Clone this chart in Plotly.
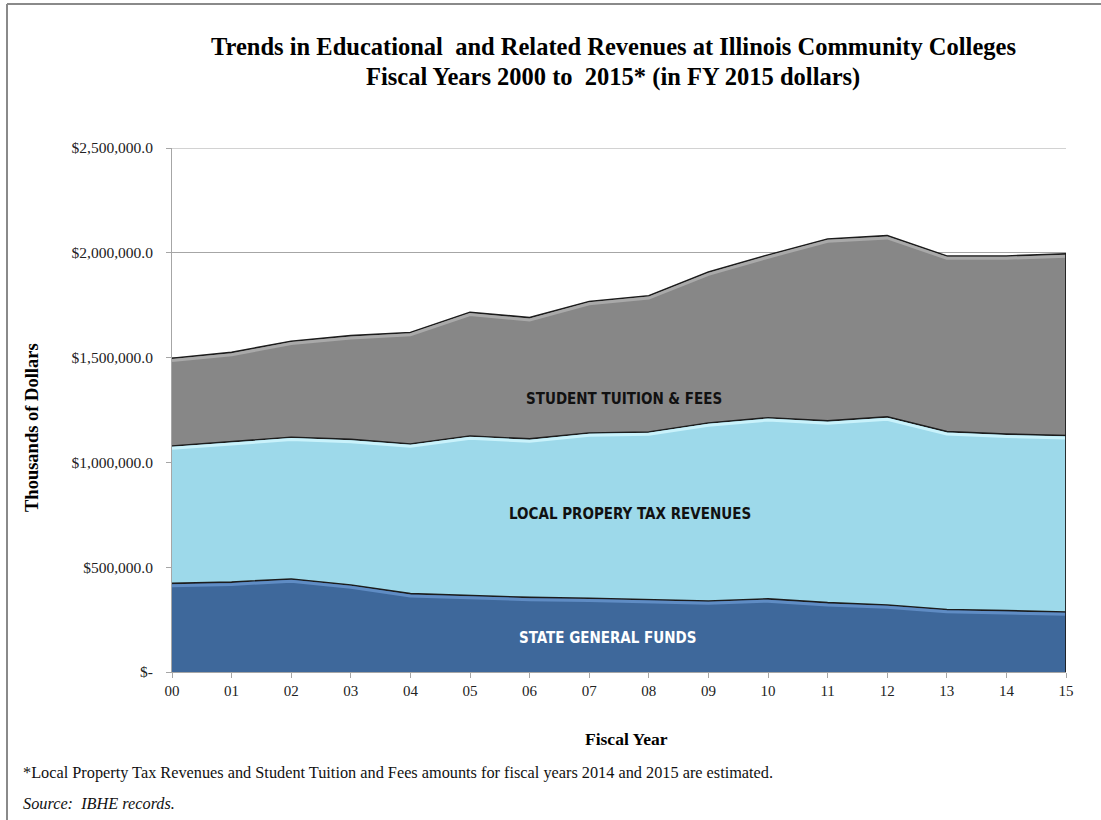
import plotly.graph_objects as go

years = ["00", "01", "02", "03", "04", "05", "06", "07", "08", "09", "10", "11", "12", "13", "14", "15"]
state_general = [423000, 429000, 444000, 415000, 374000, 366000, 356000, 352000,
                 345000, 339000, 349000, 331000, 320000, 298000, 293000, 286000]
local_property = [655000, 670000, 676000, 695000, 714000, 760000, 756000, 788000,
                  800000, 849000, 864000, 867000, 897000, 849000, 842000, 842000]
tuition_fees = [419000, 426000, 458000, 495000, 532000, 590000, 579000, 628000,
                650000, 720000, 777000, 868000, 865000, 838000, 850000, 867000]
y_tickvals = [0, 500000, 1000000, 1500000, 2000000, 2500000]
y_ticktext = ["$-", "$500,000.0", "$1,000,000.0", "$1,500,000.0", "$2,000,000.0", "$2,500,000.0"]

x = list(range(len(years)))
cum1 = state_general
cum2 = [a + b for a, b in zip(state_general, local_property)]
cum3 = [a + b for a, b in zip(cum2, tuition_fees)]

LINE = "#1c1c1c"
fig = go.Figure()
fig.add_trace(go.Scatter(x=x, y=state_general, stackgroup="s", mode="lines",
                         line=dict(color=LINE, width=1.6), fillcolor="#3e689b",
                         name="State General Funds"))
fig.add_trace(go.Scatter(x=x, y=local_property, stackgroup="s", mode="lines",
                         line=dict(color=LINE, width=1.6), fillcolor="#9dd9ea",
                         name="Local Property Tax Revenues"))
fig.add_trace(go.Scatter(x=x, y=tuition_fees, stackgroup="s", mode="lines",
                         line=dict(color=LINE, width=1.6), fillcolor="#878787",
                         name="Student Tuition & Fees"))

# bevel highlights just below each boundary
off = 11000
for cum, col in [(cum1, "#5f8cc4"), (cum2, "#c9f2fb"), (cum3, "#a9a9a9")]:
    fig.add_trace(go.Scatter(x=x, y=[v - off for v in cum], mode="lines",
                             line=dict(color=col, width=3), hoverinfo="skip"))
# right edge of the stacked areas
fig.add_trace(go.Scatter(x=[x[-1], x[-1]], y=[0, cum3[-1]], mode="lines",
                         line=dict(color=LINE, width=1.8), hoverinfo="skip"))

serif = "Liberation Serif"
fig.update_layout(
    width=1101, height=820,
    margin=dict(l=172, r=35, t=148, b=148),
    paper_bgcolor="white", plot_bgcolor="white",
    showlegend=False,
    font=dict(family=serif, color="#222222"),
    xaxis=dict(range=[0, 15], tickvals=x, ticktext=years, showgrid=False,
               zeroline=False, showline=True, linecolor="#a6a6a6", linewidth=1,
               ticks="outside", ticklen=5, tickcolor="#a6a6a6",
               tickfont=dict(family=serif, size=15, color="#222222")),
    yaxis=dict(range=[0, 2500000], tickvals=y_tickvals, ticktext=y_ticktext,
               showgrid=True, gridcolor="#a6a6a6", gridwidth=1, zeroline=False,
               showline=True, linecolor="#a6a6a6", linewidth=1,
               ticks="outside", ticklen=5, tickcolor="#a6a6a6",
               ticklabelstandoff=10,
               tickfont=dict(family=serif, size=15.5, color="#222222")),
)
# top gridline at the axis maximum
fig.add_shape(type="line", xref="paper", yref="y", x0=0, x1=1,
              y0=y_tickvals[-1], y1=y_tickvals[-1], line=dict(color="#a6a6a6", width=1),
              layer="below")

def px(v):
    return (v - 172) / 894.0

def py(v):
    return (672 - v) / 524.0

ann = [
    dict(text="<b>Trends in Educational  and Related Revenues at Illinois Community Colleges</b>",
         x=px(613), y=py(47), size=24.5, color="#000000", family=serif),
    dict(text="<b>Fiscal Years 2000 to  2015* (in FY 2015 dollars)</b>",
         x=px(613), y=py(77), size=24.5, color="#000000", family=serif),
    dict(text="<b>Fiscal Year</b>", x=px(626), y=py(739), size=17.5, color="#000000", family=serif),
    dict(text="<b>STUDENT TUITION &amp; FEES</b>", x=px(624), y=py(399), size=15,
         color="#111111", family="DejaVu Sans Condensed"),
    dict(text="<b>LOCAL PROPERY TAX REVENUES</b>", x=px(630), y=py(514), size=15,
         color="#111111", family="DejaVu Sans Condensed"),
    dict(text="<b>STATE GENERAL FUNDS</b>", x=px(608), y=py(638), size=15,
         color="#ffffff", family="DejaVu Sans Condensed"),
]
for a in ann:
    fig.add_annotation(text=a["text"], x=a["x"], y=a["y"], xref="paper", yref="paper",
                       xanchor="center", yanchor="middle", showarrow=False,
                       font=dict(family=a["family"], size=a["size"], color=a["color"]))

fig.add_annotation(text="<b>Thousands of Dollars</b>", x=px(32), y=py(428), xref="paper",
                   yref="paper", textangle=-90, showarrow=False, xanchor="center",
                   yanchor="middle", font=dict(family=serif, size=18.5, color="#000000"))
fig.add_annotation(text="*Local Property Tax Revenues and Student Tuition and Fees amounts for fiscal years 2014 and 2015 are estimated.",
                   x=px(21), y=py(772), xref="paper", yref="paper", xanchor="left",
                   yanchor="middle", showarrow=False,
                   font=dict(family=serif, size=16.3, color="#111111"))
fig.add_annotation(text="<i>Source:  IBHE records.</i>",
                   x=px(21), y=py(803), xref="paper", yref="paper", xanchor="left",
                   yanchor="middle", showarrow=False,
                   font=dict(family=serif, size=16.3, color="#111111"))

# page frame
fig.add_shape(type="line", xref="paper", yref="paper", x0=px(7), x1=px(1110),
              y0=py(4), y1=py(4), line=dict(color="#8a8a8a", width=2))
fig.add_shape(type="line", xref="paper", yref="paper", x0=px(7), x1=px(7),
              y0=py(4), y1=py(830), line=dict(color="#8a8a8a", width=2))

fig.write_html("out.html")
